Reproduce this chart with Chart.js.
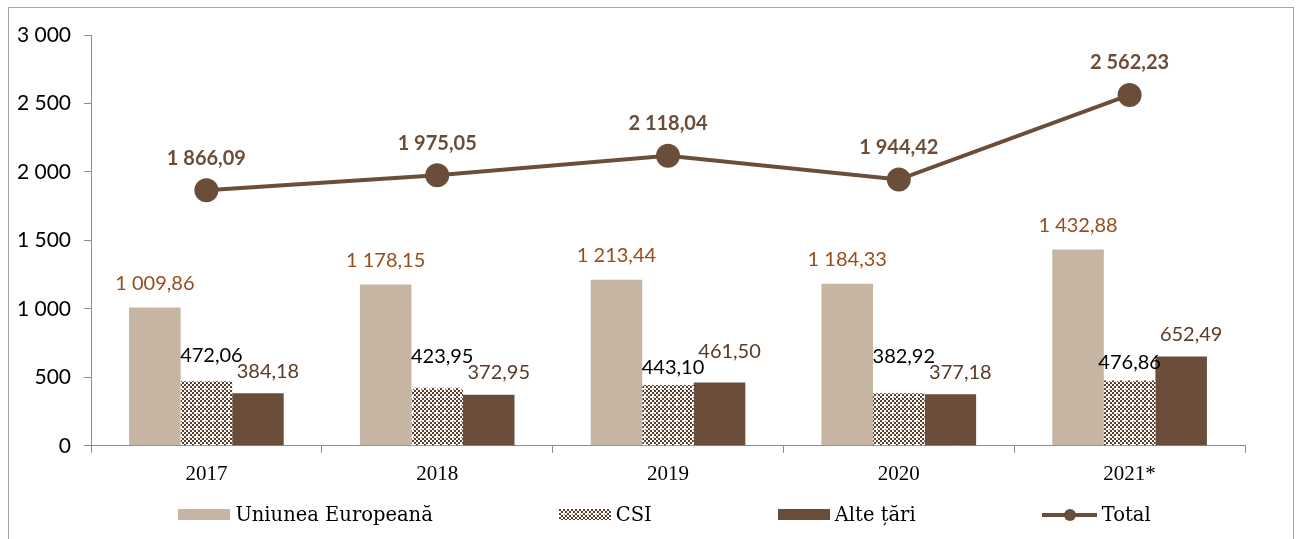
<!DOCTYPE html>
<html>
<head>
<meta charset="utf-8">
<script src="https://cdn.jsdelivr.net/npm/chart.js@4.4.1/dist/chart.umd.min.js"></script>
<style>
  html, body { margin: 0; padding: 0; background: #fff; }
  #wrap { position: relative; width: 1299px; height: 539px; overflow: hidden; }
  #frame { position: absolute; left: 8px; top: 7px; width: 1284px; height: 560px; border: 1px solid #a6a6a6; pointer-events: none; }
  #legend { position: absolute; left: 30px; top: 503px; width: 1269px; display: flex; justify-content: center; gap: 126px;
            font-family: "DejaVu Serif", serif; font-size: 19.5px; color: #000; }
  .item { display: flex; align-items: center; gap: 5px; white-space: nowrap; }
  .sw { width: 52px; height: 11px; display: inline-block; }
  .ln { width: 55px; height: 20px; position: relative; display: inline-block; }
  .ln::before { content: ""; position: absolute; left: 0; right: 0; top: 8px; height: 4px; background: #6b4e3a; }
  .ln::after { content: ""; position: absolute; left: 22px; top: 4px; width: 12px; height: 12px; border-radius: 50%; background: #6b4e3a; }
</style>
</head>
<body>
<div id="wrap">
  <canvas id="chart" width="1299" height="539"></canvas>
  <div id="frame"></div>
  <div id="legend"></div>
</div>
<script>
  const years = ["2017", "2018", "2019", "2020", "2021*"];
  const ueValues = [1009.86, 1178.15, 1213.44, 1184.33, 1432.88];
  const csiValues = [472.06, 423.95, 443.10, 382.92, 476.86];
  const alteValues = [384.18, 372.95, 461.50, 377.18, 652.49];
  const totalValues = [1866.09, 1975.05, 2118.04, 1944.42, 2562.23];
  const yMin = 0, yMax = 3000, yStep = 500;

  const colors = {
    ue: "#c6b5a3",
    csi: "#5e3f2c",
    alte: "#6b4e3a",
    total: "#6b4e3a",
    ueLabel: "#9a4d1c",
    alteLabel: "#5b3a28"
  };

  // checkered fill for CSI
  function makePattern() {
    const c = document.createElement("canvas");
    c.width = 8; c.height = 8;
    const g = c.getContext("2d");
    g.fillStyle = "#fff";
    g.fillRect(0, 0, 8, 8);
    g.fillStyle = colors.csi;
    for (let i = 0; i < 4; i++) {
      for (let j = 0; j < 4; j++) {
        if ((i + j) % 2 === 0) g.fillRect(i * 2, j * 2, 2, 2);
      }
    }
    g.fillStyle = "#fff";
    g.fillRect(3, 4, 3, 1);
    g.fillRect(4, 3, 1, 3);
    return c;
  }
  const patternCanvas = makePattern();
  const ctx = document.getElementById("chart").getContext("2d");
  const csiPattern = ctx.createPattern(patternCanvas, "repeat");

  function fmt(v, dec) {
    const parts = v.toFixed(dec).split(".");
    const int = parts[0].replace(/\B(?=(\d{3})+(?!\d))/g, " ");
    return parts[1] ? int + "," + parts[1] : int;
  }

  // value labels; the two small bars push the taller one's label up when they collide
  const valueLabels = {
    id: "valueLabels",
    afterDraw(chart) {
      const c = chart.ctx;
      const boxes = chart.data.datasets.map((ds, i) => {
        const meta = chart.getDatasetMeta(i);
        c.font = (ds.labelWeight || "normal") + " 20px Lato";
        return meta.data.map((el, j) => {
          const text = fmt(ds.data[j], 2);
          const w = c.measureText(text).width;
          const x = el.x + (ds.labelShift || 0);
          return { text, x, y: el.y - ds.labelOffset, w, v: ds.data[j] };
        });
      });
      // CSI = 2, Alte = 3
      const alteMeta = chart.getDatasetMeta(3);
      boxes[2].forEach((a, j) => {
        const b = boxes[3][j];
        // no nudge to the right if the next bar stands taller than the label
        if (alteMeta.data[j].y < a.y) a.x -= chart.data.datasets[2].labelShift;
        const hOverlap = (a.x + a.w / 2 + 2) > (b.x - b.w / 2);
        if (hOverlap && Math.abs(a.y - b.y) < 16) {
          if (a.v > b.v) a.y = b.y - 16; else b.y = a.y - 16;
        }
      });
      chart.data.datasets.forEach((ds, i) => {
        c.save();
        c.font = (ds.labelWeight || "normal") + " 20px Lato";
        c.fillStyle = ds.labelColor;
        c.textAlign = "center";
        c.textBaseline = "middle";
        boxes[i].forEach(b => c.fillText(b.text, b.x, b.y));
        c.restore();
      });
    }
  };

  new Chart(ctx, {
    data: {
      labels: years,
      datasets: [
        {
          type: "line", label: "Total", data: totalValues, order: 0,
          borderColor: colors.total, backgroundColor: colors.total, borderWidth: 4,
          pointRadius: 10, pointHoverRadius: 10, pointBackgroundColor: colors.total,
          labelColor: colors.total, labelOffset: 32, labelWeight: "bold"
        },
        {
          type: "bar", label: "Uniunea Europeană", data: ueValues, order: 1,
          backgroundColor: colors.ue, labelColor: colors.ueLabel, labelOffset: 24
        },
        {
          type: "bar", label: "CSI", data: csiValues, order: 1,
          backgroundColor: csiPattern, labelColor: "#000", labelOffset: 18, labelShift: 5
        },
        {
          type: "bar", label: "Alte țări", data: alteValues, order: 1,
          backgroundColor: colors.alte, labelColor: colors.alteLabel, labelOffset: 22, labelShift: 10
        }
      ]
    },
    options: {
      responsive: false,
      animation: false,
      layout: { padding: { top: 35, right: 54, bottom: 43, left: 0 } },
      datasets: { bar: { categoryPercentage: 0.67, barPercentage: 1.0 } },
      scales: {
        x: {
          grid: { offset: true, drawOnChartArea: false, color: "#8c8c8c", tickLength: 7 },
          border: { color: "#8c8c8c", width: 1 },
          ticks: { color: "#000", padding: 9, font: { family: "Liberation Serif", size: 21 } }
        },
        y: {
          min: yMin, max: yMax,
          afterFit(scale) { scale.width = 91; },
          grid: { drawOnChartArea: false, color: "#8c8c8c", tickLength: 7 },
          border: { color: "#8c8c8c", width: 1 },
          ticks: {
            stepSize: yStep, color: "#000", padding: 13,
            font: { family: "Lato", size: 21 },
            callback: (v) => fmt(v, 0)
          }
        }
      },
      plugins: { legend: { display: false }, tooltip: { enabled: false } }
    },
    plugins: [valueLabels]
  });

  // legend below the chart
  const legend = document.getElementById("legend");
  const patUrl = patternCanvas.toDataURL();
  const items = [
    { text: "Uniunea Europeană", css: "background:" + colors.ue },
    { text: "CSI", css: "background:url(" + patUrl + ") repeat" },
    { text: "Alte țări", css: "background:" + colors.alte },
    { text: "Total", line: true }
  ];
  items.forEach(it => {
    const d = document.createElement("div");
    d.className = "item";
    const s = document.createElement("span");
    if (it.line) s.className = "ln";
    else { s.className = "sw"; s.style.cssText = it.css; }
    d.appendChild(s);
    d.appendChild(document.createTextNode(it.text));
    legend.appendChild(d);
  });
</script>
</body>
</html>
